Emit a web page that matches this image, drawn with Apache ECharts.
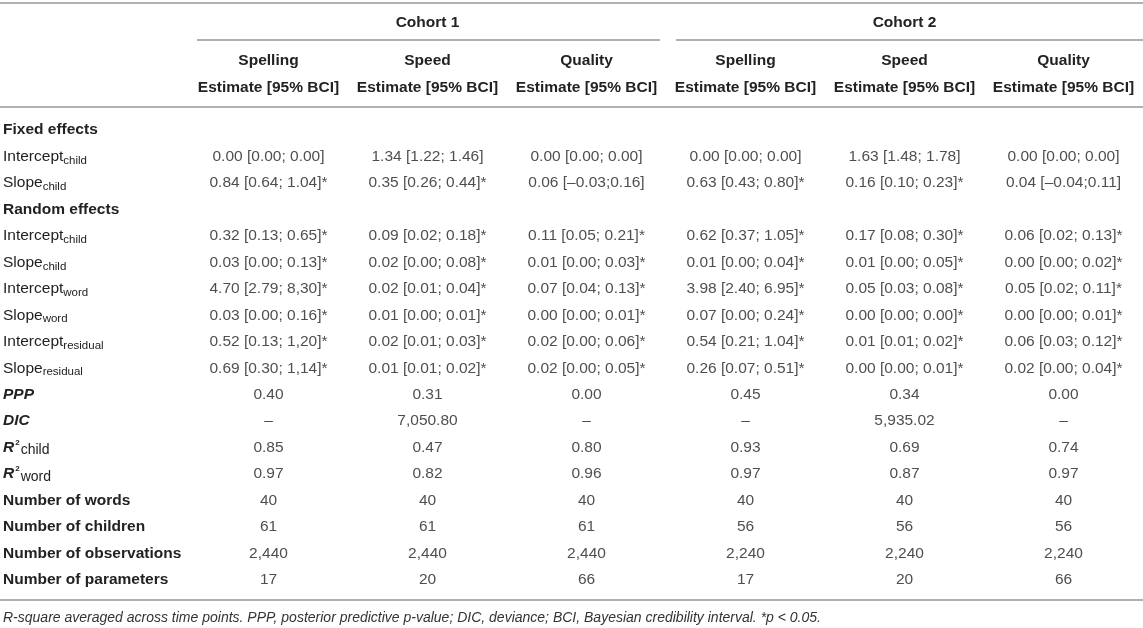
<!DOCTYPE html>
<html><head><meta charset="utf-8">
<script src="https://cdn.jsdelivr.net/npm/echarts@6/dist/echarts.min.js"></script>
<style>html,body{margin:0;padding:0;background:#fff}#c{width:1143px;height:628px}</style>
</head><body><div id="c"></div>
<script>
const cohorts = ['Cohort 1', 'Cohort 2'];
const measures = ['Spelling', 'Speed', 'Quality', 'Spelling', 'Speed', 'Quality'];
const subHeader = 'Estimate [95% BCI]';
const rowLabels = ['Fixed effects', 'Intercept_child', 'Slope_child', 'Random effects', 'Intercept_child', 'Slope_child', 'Intercept_word', 'Slope_word', 'Intercept_residual', 'Slope_residual', 'PPP', 'DIC', 'R²_child', 'R²_word', 'Number of words', 'Number of children', 'Number of observations', 'Number of parameters'];
const c1Spelling = ['', '0.00 [0.00; 0.00]', '0.84 [0.64; 1.04]*', '', '0.32 [0.13; 0.65]*', '0.03 [0.00; 0.13]*', '4.70 [2.79; 8,30]*', '0.03 [0.00; 0.16]*', '0.52 [0.13; 1,20]*', '0.69 [0.30; 1,14]*', '0.40', '–', '0.85', '0.97', '40', '61', '2,440', '17'];
const c1Speed = ['', '1.34 [1.22; 1.46]', '0.35 [0.26; 0.44]*', '', '0.09 [0.02; 0.18]*', '0.02 [0.00; 0.08]*', '0.02 [0.01; 0.04]*', '0.01 [0.00; 0.01]*', '0.02 [0.01; 0.03]*', '0.01 [0.01; 0.02]*', '0.31', '7,050.80', '0.47', '0.82', '40', '61', '2,440', '20'];
const c1Quality = ['', '0.00 [0.00; 0.00]', '0.06 [–0.03;0.16]', '', '0.11 [0.05; 0.21]*', '0.01 [0.00; 0.03]*', '0.07 [0.04; 0.13]*', '0.00 [0.00; 0.01]*', '0.02 [0.00; 0.06]*', '0.02 [0.00; 0.05]*', '0.00', '–', '0.80', '0.96', '40', '61', '2,440', '66'];
const c2Spelling = ['', '0.00 [0.00; 0.00]', '0.63 [0.43; 0.80]*', '', '0.62 [0.37; 1.05]*', '0.01 [0.00; 0.04]*', '3.98 [2.40; 6.95]*', '0.07 [0.00; 0.24]*', '0.54 [0.21; 1.04]*', '0.26 [0.07; 0.51]*', '0.45', '–', '0.93', '0.97', '40', '56', '2,240', '17'];
const c2Speed = ['', '1.63 [1.48; 1.78]', '0.16 [0.10; 0.23]*', '', '0.17 [0.08; 0.30]*', '0.01 [0.00; 0.05]*', '0.05 [0.03; 0.08]*', '0.00 [0.00; 0.00]*', '0.01 [0.01; 0.02]*', '0.00 [0.00; 0.01]*', '0.34', '5,935.02', '0.69', '0.87', '40', '56', '2,240', '20'];
const c2Quality = ['', '0.00 [0.00; 0.00]', '0.04 [–0.04;0.11]', '', '0.06 [0.02; 0.13]*', '0.00 [0.00; 0.02]*', '0.05 [0.02; 0.11]*', '0.00 [0.00; 0.01]*', '0.06 [0.03; 0.12]*', '0.02 [0.00; 0.04]*', '0.00', '–', '0.74', '0.97', '40', '56', '2,240', '66'];
const footnote = 'R-square averaged across time points. PPP, posterior predictive p-value; DIC, deviance; BCI, Bayesian credibility interval. *p < 0.05.';

const columns = [c1Spelling, c1Speed, c1Quality, c2Spelling, c2Speed, c2Quality];

const FONT = '"Liberation Sans", Arial, Helvetica, sans-serif';
const TXT = '#222';
const RULE = '#b0b0b0';
const FS = 15.5;

const boldRows = ['Fixed effects', 'Random effects'];
function rowFormatter(value) {
  if (value.startsWith('Number') || boldRows.indexOf(value) >= 0) return '{b|' + value + '}';
  if (value === 'PPP' || value === 'DIC') return '{bi|' + value + '}';
  if (value.startsWith('R²_')) {
    const sub = value.split('_')[1];
    return '{bi|R}{sup|2}{r2|' + sub + '}';
  }
  if (value.indexOf('_') >= 0) {
    const p = value.split('_');
    return '{n|' + p[0] + '}{sub|' + p[1] + '}';
  }
  return '{n|' + value + '}';
}

const chart = echarts.init(document.getElementById('c'), null, {renderer: 'canvas'});
const option = {
  animation: false,
  backgroundColor: '#fff',
  textStyle: {fontFamily: FONT, color: TXT},
  title: {
    text: footnote, left: 3, top: 611, padding: 0,
    textStyle: {fontFamily: FONT, fontStyle: 'italic', fontWeight: 'normal', fontSize: 14, color: '#333'}
  },
  grid: {left: 189, right: 0, top: 116.8, bottom: 34.8},
  xAxis: [{
    type: 'category', position: 'top', data: measures,
    axisLine: {show: false}, axisTick: {show: false}, splitLine: {show: false},
    axisLabel: {
      interval: 0, margin: 16,
      formatter: v => '{h|' + v + '}\n{h|' + subHeader + '}',
      rich: {h: {fontFamily: FONT, fontWeight: 'bold', fontSize: FS, lineHeight: 27, color: TXT}}
    }
  }, {
    type: 'category', position: 'top', data: cohorts, offset: 76.8,
    axisLine: {show: false}, axisTick: {show: false}, splitLine: {show: false},
    axisLabel: {interval: 0, margin: 9.5, fontFamily: FONT, fontWeight: 'bold', fontSize: FS, color: TXT}
  }],
  yAxis: {
    type: 'category', inverse: true, data: rowLabels,
    axisLine: {show: false}, axisTick: {show: false}, splitLine: {show: false},
    axisLabel: {
      interval: 0, align: 'left', margin: 186,
      formatter: rowFormatter,
      rich: {
        n: {fontFamily: FONT, fontSize: FS, color: TXT, lineHeight: 20},
        b: {fontFamily: FONT, fontSize: FS, fontWeight: 'bold', color: TXT, lineHeight: 20},
        bi: {fontFamily: FONT, fontSize: FS, fontWeight: 'bold', fontStyle: 'italic', color: TXT, lineHeight: 20},
        sub: {fontFamily: FONT, fontSize: 11.5, color: TXT, verticalAlign: 'bottom'},
        sup: {fontFamily: FONT, fontSize: 8, fontWeight: 'bold', color: TXT, verticalAlign: 'top', padding: [1, 1, 0, 1]},
        r2: {fontFamily: FONT, fontSize: 14, color: TXT, verticalAlign: 'bottom', lineHeight: 17}
      }
    }
  },
  series: columns.map((col, ci) => ({
    type: 'scatter',
    symbol: 'circle', symbolSize: 1,
    itemStyle: {color: 'rgba(0,0,0,0)'},
    silent: true,
    data: col.map((t, ri) => [ci, ri, t]).filter(d => d[2] !== ''),
    label: {
      show: true, position: 'inside',
      fontFamily: FONT, fontSize: FS, color: TXT,
      formatter: p => p.data[2]
    }
  })),
  graphic: [
    {type: 'line', shape: {x1: 0, y1: 3, x2: 1143, y2: 3}, style: {stroke: RULE, lineWidth: 2}},
    {type: 'line', shape: {x1: 197, y1: 40, x2: 660, y2: 40}, style: {stroke: RULE, lineWidth: 2}},
    {type: 'line', shape: {x1: 676, y1: 40, x2: 1143, y2: 40}, style: {stroke: RULE, lineWidth: 2}},
    {type: 'line', shape: {x1: 0, y1: 107, x2: 1143, y2: 107}, style: {stroke: RULE, lineWidth: 2}},
    {type: 'line', shape: {x1: 0, y1: 600, x2: 1143, y2: 600}, style: {stroke: RULE, lineWidth: 2}}
  ]
};
chart.setOption(option);
</script>
</body></html>
